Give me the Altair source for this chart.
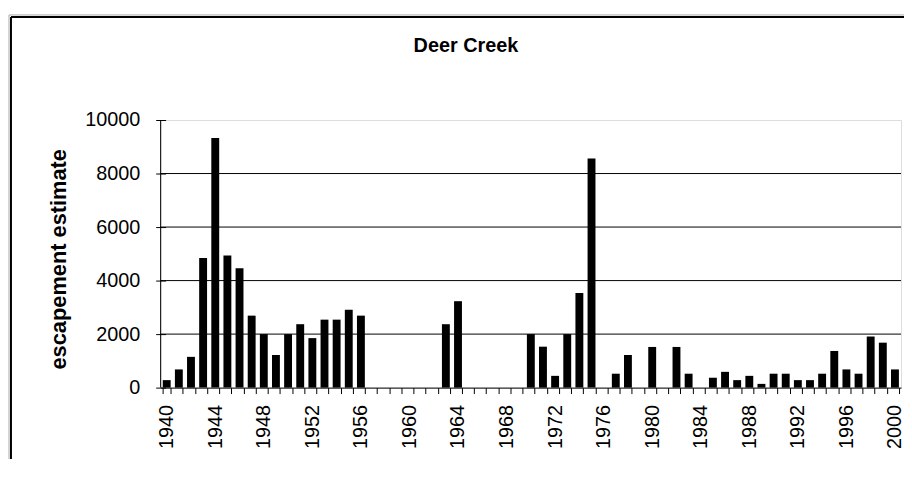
import altair as alt
import pandas as pd

# ---- data ----
years = list(range(1940, 2001))
escapement = [280, 680, 1150, 4840, 9330, 4940, 4460, 2690, 2000, 1220,
              2000, 2370, 1850, 2540, 2540, 2910, 2690, None, None, None,
              None, None, None, 2370, 3230, None, None, None, None, None,
              2000, 1530, 440, 2000, 3540, 8560, None, 520, 1220, None,
              1520, None, 1520, 520, None, 370, 590, 280, 440, 140,
              520, 520, 280, 280, 520, 1370, 680, 520, 1910, 1680, 680]
y_ticks = [0, 2000, 4000, 6000, 8000, 10000]
grid_values = [2000, 4000, 6000, 8000]
chart_title = "Deer Creek"
y_title = "escapement estimate"

W, H = 747, 270
FONT = "Liberation Sans"

df = pd.DataFrame({"year": years, "escapement": escapement})
grid_df = pd.DataFrame({"escapement": grid_values})
one = pd.DataFrame({"a": [0]})

x_enc = alt.X(
    "year:O",
    scale=alt.Scale(domain=years, paddingInner=0.35, paddingOuter=0.175),
    axis=alt.Axis(
        title=None, labelAngle=-90,
        labelExpr="datum.value % 4 == 0 ? datum.label : ''",
        tickBand="extent", tickSize=6, tickColor="black", tickWidth=1,
        domainColor="black", domainWidth=1,
        labelFont=FONT, labelFontSize=20, labelColor="black",
        labelPadding=11, labelOverlap=False, labelBound=False, grid=False,
    ),
)
y_axis = alt.Axis(
    title=y_title, values=y_ticks, format="d", offset=-5, tickSize=10,
    tickColor="black", tickWidth=1, domain=False, grid=False,
    labelFont=FONT, labelFontSize=20, labelColor="black", labelPadding=16,
    titleFont=FONT, titleFontSize=22, titleFontWeight="bold", titleColor="black",
    titleAngle=-90, titleAlign="center", titleBaseline="middle",
    titleX=-108, titleY=140,
)
y_scale = alt.Scale(domain=[0, 10000], nice=False)

grid = alt.Chart(grid_df).mark_rule(color="black", strokeWidth=1).encode(
    y=alt.Y("escapement:Q", scale=y_scale, axis=y_axis)
)
bars = alt.Chart(df).mark_bar(color="black").encode(
    x=x_enc, y=alt.Y("escapement:Q", scale=y_scale, axis=y_axis)
)
left_axis = alt.Chart(one).mark_rule(color="black", strokeWidth=1).encode(
    x=alt.value(0), y=alt.value(0), y2=alt.value(H)
)
title_text = alt.Chart(one).mark_text(
    text=chart_title, font=FONT, fontSize=20, fontWeight="bold", color="black",
    align="center", baseline="alphabetic"
).encode(x=alt.value(308), y=alt.value(-69))
frame_v = alt.Chart(one).mark_rule(color="black", strokeWidth=2).encode(
    x=alt.value(-151), y=alt.value(-104), y2=alt.value(H + 200)
)
frame_h = alt.Chart(one).mark_rule(color="black", strokeWidth=2).encode(
    x=alt.value(-151), x2=alt.value(W + 100), y=alt.value(-104)
)
frame_v2 = alt.Chart(one).mark_rule(color="#aaaaaa", strokeWidth=1).encode(
    x=alt.value(-153), y=alt.value(-106), y2=alt.value(H + 200)
)
frame_h2 = alt.Chart(one).mark_rule(color="#aaaaaa", strokeWidth=1).encode(
    x=alt.value(-153), x2=alt.value(W + 100), y=alt.value(-106)
)

chart = alt.layer(
    grid, bars, left_axis, title_text, frame_v, frame_h, frame_v2, frame_h2
).properties(
    width=W, height=H,
    autosize=alt.AutoSizeParams(type="none"),
    padding={"left": 154, "top": 111, "right": 3, "bottom": 70},
).configure_view(
    stroke="#888888", strokeDash=[2, 2], strokeWidth=1
).configure(background="white")

chart.save("out.html", embed_options={"renderer": "svg", "actions": False})
